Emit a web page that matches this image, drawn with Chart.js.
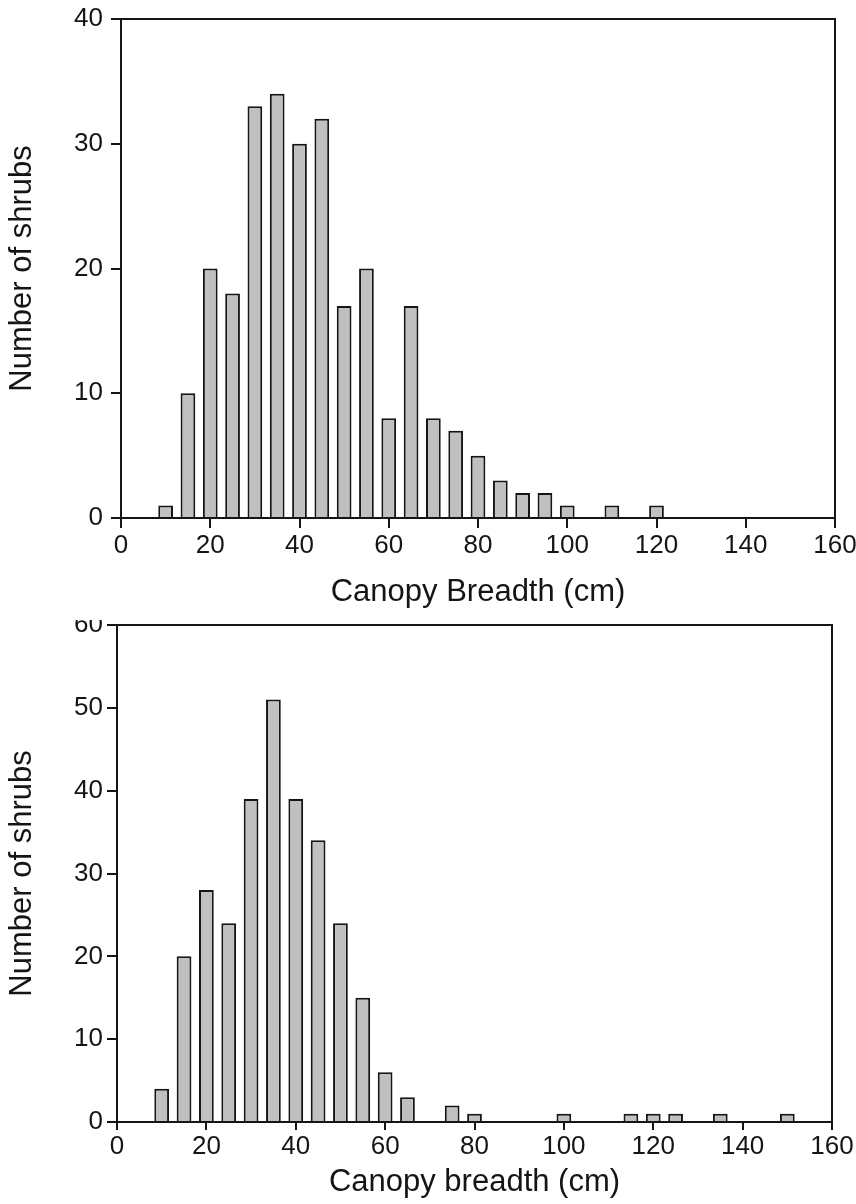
<!DOCTYPE html>
<html>
<head>
<meta charset="utf-8">
<script src="https://cdn.jsdelivr.net/npm/chart.js@4.4.1/dist/chart.umd.min.js"></script>
<style>
  html, body { margin: 0; padding: 0; background: #fff; }
  body { width: 856px; height: 1204px; position: relative; overflow: hidden; }
  #topBox { position: absolute; left: 0; top: 0; width: 856px; height: 612px; }
  #bottomClip { position: absolute; left: 0; top: 620px; width: 856px; height: 584px; overflow: hidden; }
  #bottomBox { position: absolute; left: 0; top: -14px; width: 856px; height: 598px; }
</style>
</head>
<body>
<div id="topBox"><canvas id="topChart" width="856" height="612"></canvas></div>
<div id="bottomClip"><div id="bottomBox"><canvas id="bottomChart" width="856" height="598"></canvas></div></div>
<script>
// bin centres (cm) and counts
const binsTop = [10, 15, 20, 25, 30, 35, 40, 45, 50, 55, 60, 65, 70, 75, 80, 85, 90, 95, 100, 105, 110, 115, 120];
const countsTop = [1, 10, 20, 18, 33, 34, 30, 32, 17, 20, 8, 17, 8, 7, 5, 3, 2, 2, 1, 0, 1, 0, 1];

const binsBottom = [10, 15, 20, 25, 30, 35, 40, 45, 50, 55, 60, 65, 70, 75, 80, 85, 90, 95, 100, 105, 110, 115, 120, 125, 130, 135, 140, 145, 150];
const countsBottom = [4, 20, 28, 24, 39, 51, 39, 34, 24, 15, 6, 3, 0, 2, 1, 0, 0, 0, 1, 0, 0, 1, 1, 1, 0, 1, 0, 0, 1];

const xTicks = [0, 20, 40, 60, 80, 100, 120, 140, 160];
const yTicksTop = [0, 10, 20, 30, 40];
const yTicksBottom = [0, 10, 20, 30, 40, 50, 60];

const ink = '#151515';
const family = '"Liberation Sans", Arial, sans-serif';

// box round the plot area (top and right sides)
const frame = {
  id: 'frame',
  afterDraw(chart) {
    const a = chart.chartArea;
    const ctx = chart.ctx;
    ctx.save();
    ctx.strokeStyle = ink;
    ctx.lineWidth = 2;
    ctx.strokeRect(a.left, a.top, a.right - a.left, a.bottom - a.top);
    ctx.restore();
  }
};

function makeChart(id, bins, counts, yTicks, cfg) {
  const points = bins.map((b, i) => ({ x: b, y: counts[i] === 0 ? null : counts[i] }));
  return new Chart(document.getElementById(id), {
    type: 'bar',
    data: {
      datasets: [{
        data: points,
        backgroundColor: '#c0c0c0',
        borderColor: ink,
        borderWidth: 2,
        barPercentage: 0.66,
        categoryPercentage: 1
      }]
    },
    options: {
      responsive: false,
      animation: false,
      events: [],
      layout: { padding: { left: 0, top: 19, right: cfg.right, bottom: cfg.bottom } },
      plugins: { legend: { display: false }, tooltip: { enabled: false } },
      scales: {
        x: {
          type: 'linear',
          min: 0,
          max: 160,
          offset: false,
          afterBuildTicks: s => { s.ticks = xTicks.map(v => ({ value: v })); },
          afterFit: s => { s.height = cfg.xHeight; s.paddingLeft = 0; s.paddingRight = 0; },
          grid: { display: true, offset: false, drawOnChartArea: false, drawTicks: true,
                  tickLength: cfg.xTick, color: ink, lineWidth: 2 },
          border: { display: true, color: ink, width: 2 },
          ticks: { color: ink, padding: cfg.xPad, maxRotation: 0, autoSkip: false,
                   font: { family: family, size: 26 } },
          title: { display: true, text: cfg.xTitle, color: ink, padding: { top: 0, bottom: 0 },
                   font: { family: family, size: 31 } }
        },
        y: {
          min: 0,
          max: yTicks[yTicks.length - 1],
          afterBuildTicks: s => { s.ticks = yTicks.map(v => ({ value: v })); },
          afterFit: s => { s.width = cfg.left; s.paddingTop = 0; s.paddingBottom = 0; },
          grid: { display: true, drawOnChartArea: false, drawTicks: true,
                  tickLength: 10, color: ink, lineWidth: 2 },
          border: { display: true, color: ink, width: 2 },
          ticks: { color: ink, padding: cfg.yPad, font: { family: family, size: 26 } },
          title: { display: true, text: 'Number of shrubs', color: ink, padding: { top: 4, bottom: 0 },
                   font: { family: family, size: 31 } }
        }
      }
    },
    plugins: [frame]
  });
}

makeChart('topChart', binsTop, countsTop, yTicksTop, {
  left: 121, right: 21, bottom: 1, xHeight: 93, xTick: 10, xPad: 2, yPad: 8,
  xTitle: 'Canopy Breadth (cm)'
});

makeChart('bottomChart', binsBottom, countsBottom, yTicksBottom, {
  left: 117, right: 24, bottom: 3, xHeight: 79, xTick: 8, xPad: 1, yPad: 4,
  xTitle: 'Canopy breadth (cm)'
});
</script>
</body>
</html>
